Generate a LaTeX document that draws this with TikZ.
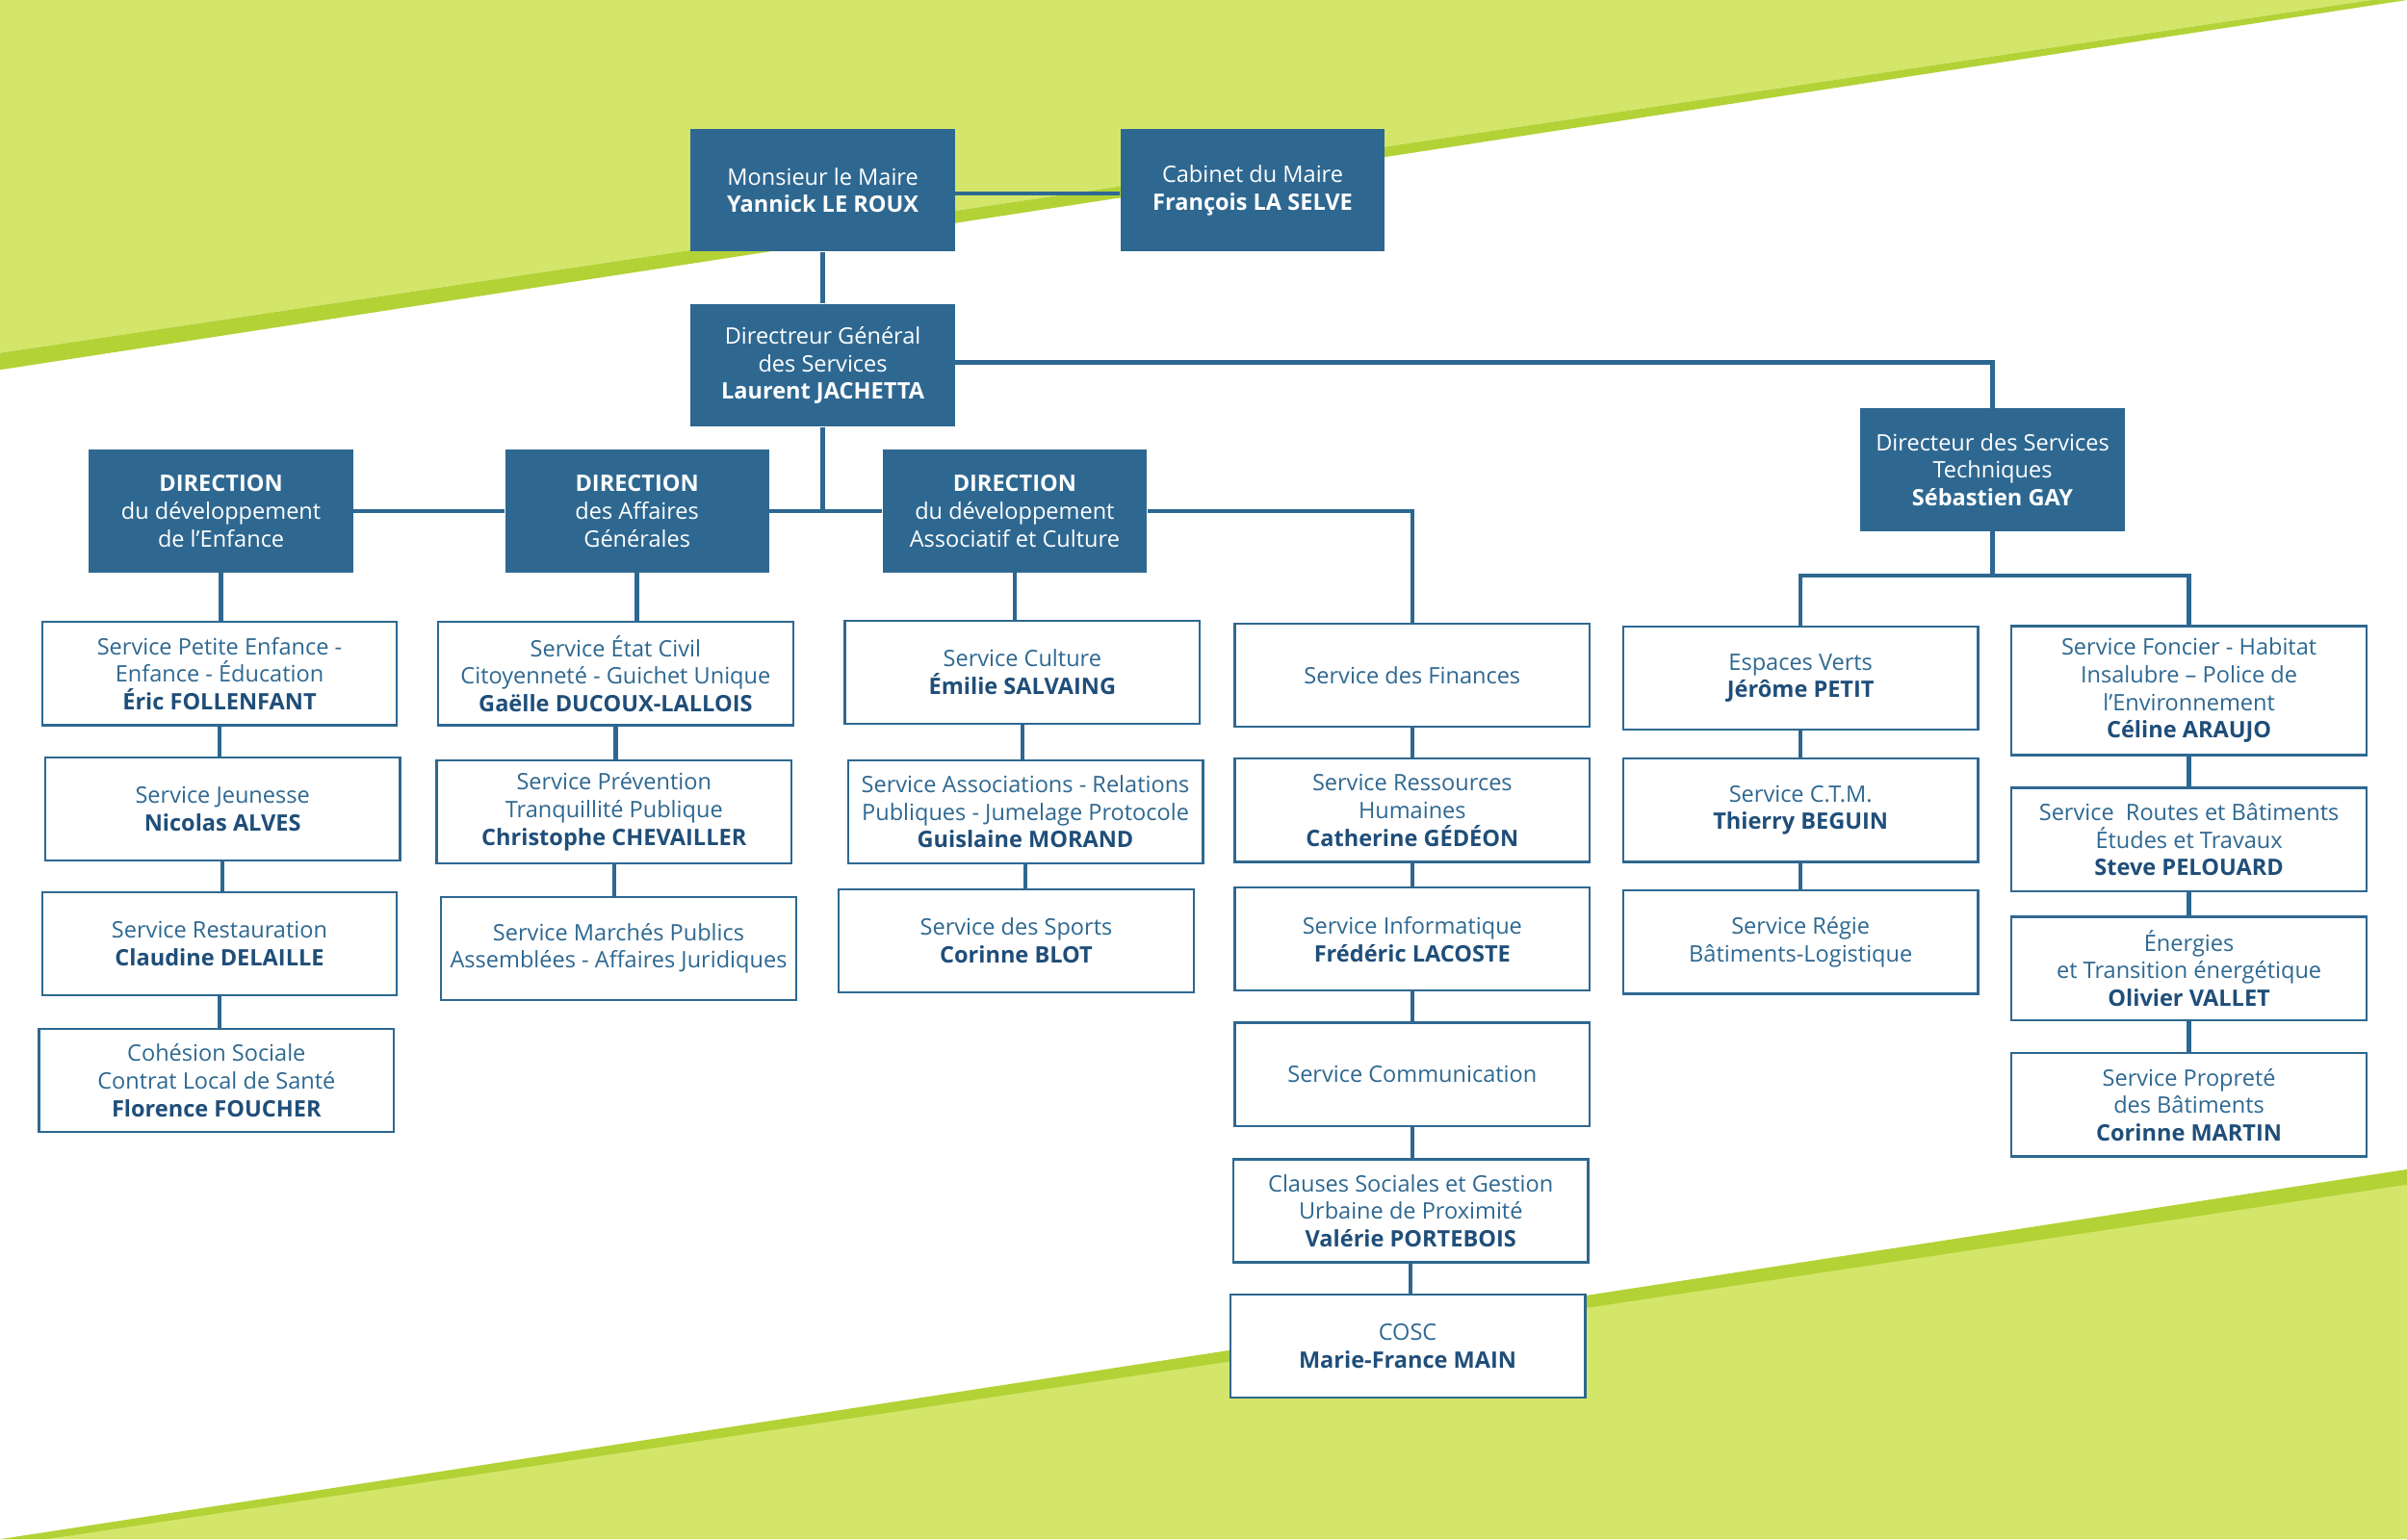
\documentclass[tikz,border=0pt]{standalone}
\usepackage{fontspec}
\setmainfont{Open Sans}
\definecolor{lg}{HTML}{D4E66A}
\definecolor{dg}{HTML}{B3D236}
\definecolor{bx}{HTML}{2E6891}
\definecolor{nm}{HTML}{1F4E79}
\begin{document}
\begin{tikzpicture}[x=0.025cm,y=0.025cm,
  fb/.style={fill=bx,text=white,minimum width=4.3cm,minimum height=2cm,align=center,inner sep=1pt,font=\fontsize{10.5}{12.8}\selectfont},
  sb/.style={draw=bx,line width=1pt,fill=white,text=bx,minimum width=5.78cm,minimum height=1.68cm,align=center,inner sep=1pt,font=\fontsize{10.5}{12.8}\selectfont},
  ln/.style={draw=bx,line width=2pt}]
\useasboundingbox (0,0) rectangle (1568,-1003);
\fill[lg] (0,0) -- (1545,0) -- (0,-230) -- cycle;
\fill[dg] (0,-230) -- (1545,0) -- (1568,0) -- (0,-241) -- cycle;
\fill[lg] (0,-1003) -- (1568,-772) -- (1568,-1003) -- cycle;
\fill[dg] (0,-1003) -- (1568,-762) -- (1568,-772) -- (30,-1003) -- cycle;
% top
\node[fb] (maire) at (536,-124) {Monsieur le Maire\\\textbf{Yannick LE ROUX}};
\node[fb] (cab) at (816,-124) {Cabinet du Maire\\\textbf{François LA SELVE}};
\node[fb] (dgs) at (536,-238) {Directreur Général\\des Services\\\textbf{Laurent JACHETTA}};
\node[fb] (de) at (144,-333) {\textbf{DIRECTION}\\du développement\\de l’Enfance};
\node[fb] (dag) at (415,-333) {\textbf{DIRECTION}\\des Affaires\\Générales};
\node[fb] (dac) at (661,-333) {\textbf{DIRECTION}\\du développement\\Associatif et Culture};
\node[fb] (dst) at (1298,-306) {Directeur des Services\\Techniques\\\textbf{Sébastien GAY}};
% col1
\node[sb] (c11) at (143,-439) {Service Petite Enfance -\\Enfance - Éducation\\\textbf{\color{nm}Éric FOLLENFANT}};
\node[sb] (c12) at (145,-527) {Service Jeunesse\\\textbf{\color{nm}Nicolas ALVES}};
\node[sb] (c13) at (143,-615) {Service Restauration\\\textbf{\color{nm}Claudine DELAILLE}};
\node[sb] (c14) at (141,-704) {Cohésion Sociale\\Contrat Local de Santé\\\textbf{\color{nm}Florence FOUCHER}};
% col2
\node[sb] (c21) at (401,-439) {Service État Civil\\Citoyenneté - Guichet Unique\\\textbf{\color{nm}Gaëlle DUCOUX-LALLOIS}};
\node[sb] (c22) at (400,-529) {Service Prévention\\Tranquillité Publique\\\textbf{\color{nm}Christophe CHEVAILLER}};
\node[sb] (c23) at (403,-618) {Service Marchés Publics\\Assemblées - Affaires Juridiques};
% col3
\node[sb] (c31) at (666,-438) {Service Culture\\\textbf{\color{nm}Émilie SALVAING}};
\node[sb] (c32) at (668,-529) {Service Associations - Relations\\Publiques - Jumelage Protocole\\\textbf{\color{nm}Guislaine MORAND}};
\node[sb] (c33) at (662,-613) {Service des Sports\\\textbf{\color{nm}Corinne BLOT}};
% col4
\node[sb] (c41) at (920,-440) {Service des Finances};
\node[sb] (c42) at (920,-528) {Service Ressources\\Humaines\\\textbf{\color{nm}Catherine GÉDÉON}};
\node[sb] (c43) at (920,-612) {Service Informatique\\\textbf{\color{nm}Frédéric LACOSTE}};
\node[sb] (c44) at (920,-700) {Service Communication};
\node[sb] (c45) at (919,-789) {Clauses Sociales et Gestion\\Urbaine de Proximité\\\textbf{\color{nm}Valérie PORTEBOIS}};
\node[sb] (c46) at (917,-877) {COSC\\\textbf{\color{nm}Marie-France MAIN}};
% col5
\node[sb] (c51) at (1173,-442) {Espaces Verts\\\textbf{\color{nm}Jérôme PETIT}};
\node[sb] (c52) at (1173,-528) {Service C.T.M.\\\textbf{\color{nm}Thierry BEGUIN}};
\node[sb] (c53) at (1173,-614) {Service Régie\\Bâtiments-Logistique};
% col6
\node[sb,minimum height=2.1cm] (c61) at (1426,-450) {Service Foncier - Habitat\\Insalubre – Police de\\l’Environnement\\\textbf{\color{nm}Céline ARAUJO}};
\node[sb] (c62) at (1426,-547) {Service~ Routes et Bâtiments\\Études et Travaux\\\textbf{\color{nm}Steve PELOUARD}};
\node[sb] (c63) at (1426,-631) {Énergies\\et Transition énergétique\\\textbf{\color{nm}Olivier VALLET}};
\node[sb] (c64) at (1426,-720) {Service Propreté\\des Bâtiments\\\textbf{\color{nm}Corinne MARTIN}};
% connectors
\begin{scope}[on background layer/.style={}]
\draw[ln] (maire.east |- 0,-126) -- (cab.west |- 0,-126);
\draw[ln] (maire) -- (dgs);
\draw[ln] (dgs.south) -- (dgs.south |- dac.west);
\draw[ln] (de.east) -- (dag.west);
\draw[ln] (dag.east) -- (dac.west);
\draw[ln] (dgs.east |- 0,-236) -| (dst.north);
\draw[ln] (dac.east) -| (c41.north);
\draw[ln] (dst.south) -- (1298,-375) coordinate (k);
\draw[ln] (c51.north) |- (k) -| (c61.north);
\foreach \a/\b in {de/c11,c11/c12,c12/c13,c13/c14,dag/c21,c21/c22,c22/c23,dac/c31,c31/c32,c32/c33,c41/c42,c42/c43,c43/c44,c44/c45,c45/c46,c51/c52,c52/c53,c61/c62,c62/c63,c63/c64}
  \draw[ln] (\a.south) -- (\a.south |- \b.north);
\end{scope}
\end{tikzpicture}
\end{document}
